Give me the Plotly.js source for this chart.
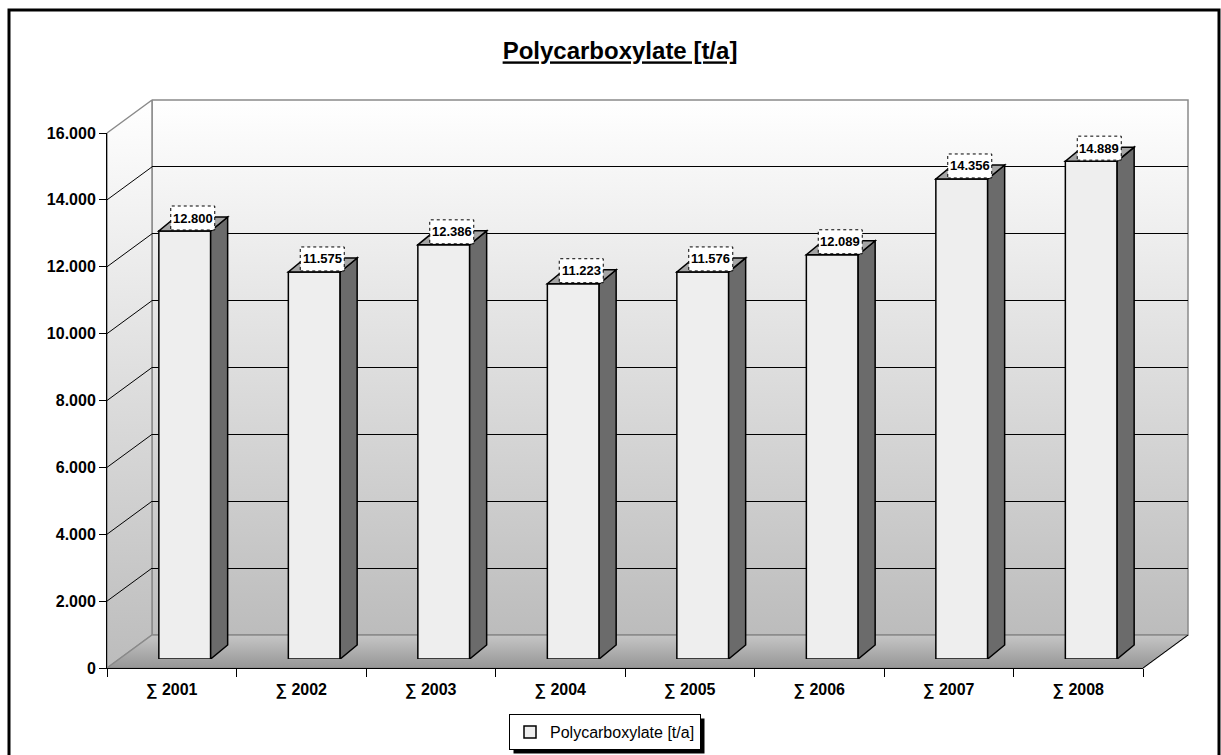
<!DOCTYPE html>
<html><head><meta charset="utf-8">
<script src="https://cdn.plot.ly/plotly-3.0.1.min.js"></script>
<style>html,body{margin:0;padding:0;background:#fff}</style>
</head><body><div id="chart" style="width:1221px;height:755px"></div>
<script>
// ---- data ----
const categories = ['\u2211 2001', '\u2211 2002', '\u2211 2003', '\u2211 2004', '\u2211 2005', '\u2211 2006', '\u2211 2007', '\u2211 2008'];
const values = [12800, 11575, 12386, 11223, 11576, 12089, 14356, 14889];
const seriesName = 'Polycarboxylate [t/a]';
const chartTitle = 'Polycarboxylate [t/a]';
const yMax = 16000;
const yStep = 2000;

// ---- layout geometry (pixels) ----
const W = 1221, H = 755;
const FONT = 'Liberation Sans, Arial, sans-serif';
const FRONT = {l: 107, r: 1143, b: 668, t: 133};
const WALL = {dx: 45, dy: 33};
const BARPLANE = {dx: 13, dy: 9};
const BAR_DEPTH = {dx: 17, dy: 14};
const BAR_W = 0.4;

function domX(dx) { return [(FRONT.l + dx) / W, (FRONT.r + dx) / W]; }
function domY(dy) { return [1 - (FRONT.b - dy) / H, 1 - (FRONT.t - dy) / H]; }
const py = p => H - p; // pixel row -> decoration axis value

const idx = categories.map((c, i) => i);
const gridVals = [];
for (let v = yStep; v < yMax; v += yStep) gridVals.push(v);
const fmt = v => String(v).replace(/\B(?=(\d{3})+(?!\d))/g, '.');

// ---- decoration (walls / floor) in pixel space ----
const wallL = FRONT.l + WALL.dx, wallR = FRONT.r + WALL.dx;
const wallT = FRONT.t - WALL.dy, wallB = FRONT.b - WALL.dy;
const wallGrad = {type: 'vertical', colorscale: [[0, '#bcbcbc'], [1, '#ffffff']]};
const deco = [
  { // back wall
    x: [wallL, wallR, wallR, wallL, wallL], y: [py(wallT), py(wallT), py(wallB), py(wallB), py(wallT)],
    fill: 'toself', fillgradient: wallGrad, mode: 'lines', line: {color: '#8a8a8a', width: 1.5}
  },
  { // left wall
    x: [FRONT.l, wallL, wallL, FRONT.l, FRONT.l], y: [py(FRONT.t), py(wallT), py(wallB), py(FRONT.b), py(FRONT.t)],
    fill: 'toself', fillgradient: wallGrad, mode: 'lines', line: {color: '#8a8a8a', width: 1.5}
  },
  { // floor
    x: [FRONT.l, FRONT.r, wallR, wallL, FRONT.l], y: [py(FRONT.b), py(FRONT.b), py(wallB), py(wallB), py(FRONT.b)],
    fill: 'toself', fillgradient: {type: 'vertical', colorscale: [[0, '#969696'], [1, '#c6c6c6']]},
    mode: 'lines', line: {color: '#8a8a8a', width: 1.5}
  },
  { // right floor edge
    x: [FRONT.r, wallR], y: [py(FRONT.b), py(wallB)], mode: 'lines', line: {color: '#000', width: 1}
  }
].map(t => Object.assign(t, {xaxis: 'x', yaxis: 'y', hoverinfo: 'skip', showlegend: false}));

const data = deco.concat([
  {x: [0], y: [0], xaxis: 'x2', yaxis: 'y2', mode: 'markers', marker: {opacity: 0}, hoverinfo: 'skip', showlegend: false},
  {
    type: 'bar', x: idx, y: values, xaxis: 'x3', yaxis: 'y3', width: BAR_W, name: seriesName,
    marker: {color: '#eeeeee', line: {color: '#000', width: 1.5}}, hoverinfo: 'skip', showlegend: true
  },
  {x: categories, y: values, xaxis: 'x4', yaxis: 'y4', mode: 'markers', marker: {opacity: 0}, hoverinfo: 'skip', showlegend: false}
]);

// ---- 3D faces of bars (in bar-plane data units) ----
const pxPerX = (FRONT.r - FRONT.l) / categories.length;
const ddx = BAR_DEPTH.dx / pxPerX;
const ddy = BAR_DEPTH.dy * yMax / (FRONT.b - FRONT.t);
const shapes = [];
values.forEach((v, i) => {
  const L = i - BAR_W / 2, R = i + BAR_W / 2;
  shapes.push({type: 'path', xref: 'x3', yref: 'y3', layer: 'above',
    path: `M${R},0 L${R + ddx},${ddy} L${R + ddx},${v + ddy} L${R},${v} Z`,
    fillcolor: '#6b6b6b', line: {color: '#000', width: 1.5}});
  shapes.push({type: 'path', xref: 'x3', yref: 'y3', layer: 'above',
    path: `M${L},${v} L${R},${v} L${R + ddx},${v + ddy} L${L + ddx},${v + ddy} Z`,
    fillcolor: '#a4a4a4', line: {color: '#000', width: 1.5}});
});
// data label boxes
values.forEach((v, i) => {
  shapes.push({type: 'rect', xref: 'x3', yref: 'y3', layer: 'above',
    xsizemode: 'pixel', ysizemode: 'pixel', xanchor: i, yanchor: v,
    x0: -14, x1: 30, y0: 1, y1: 25,
    fillcolor: '#fff', line: {color: '#000', width: 1, dash: 'dot'}});
});
// diagonal gridlines on left wall
gridVals.forEach(v => {
  shapes.push({type: 'path', xref: 'paper', yref: 'y4', layer: 'above',
    xsizemode: 'pixel', ysizemode: 'pixel', xanchor: FRONT.l / W, yanchor: v,
    path: `M0,0 L${WALL.dx},${WALL.dy}`, line: {color: '#000', width: 1}});
});
// outer frame
shapes.push({type: 'rect', xref: 'paper', yref: 'paper', layer: 'above',
  x0: 9 / W, x1: 1219 / W, y0: 1 - 10 / H, y1: -0.05, line: {color: '#000', width: 3}});

const annotations = values.map((v, i) => ({
  xref: 'x3', yref: 'y3', x: i, y: v, xshift: 8, yshift: 13, yanchor: 'middle', xanchor: 'center',
  text: fmt(v), showarrow: false, font: {family: FONT, size: 13, color: '#000', weight: 'bold'}
}));

const tickFont = {family: FONT, size: 16, color: '#000', weight: 'bold'};
const layout = {
  width: W, height: H, autosize: false,
  margin: {l: 0, r: 0, t: 0, b: 0, pad: 0},
  paper_bgcolor: '#fff', plot_bgcolor: 'rgba(0,0,0,0)',
  separators: ',.',
  title: {text: chartTitle, x: 620 / W, xanchor: 'center', xref: 'paper', y: 1 - 51 / H, yanchor: 'middle', yref: 'paper',
    font: {family: FONT, size: 24, color: '#000', weight: 'bold', lineposition: 'under'}},
  showlegend: true,
  legend: {x: 605 / W, xanchor: 'center', y: 1 - 714 / H, yanchor: 'top', bgcolor: '#fff', bordercolor: '#000', borderwidth: 1,
    font: {family: FONT, size: 16, color: '#000'}},
  xaxis: {domain: [0, 1], range: [0, W], visible: false, fixedrange: true},
  yaxis: {domain: [0, 1], range: [0, H], visible: false, fixedrange: true},
  xaxis2: {domain: domX(WALL.dx), anchor: 'y2', range: [-0.5, categories.length - 0.5], visible: false},
  yaxis2: {domain: domY(WALL.dy), anchor: 'x2', range: [0, yMax], tickvals: gridVals, showgrid: true, gridcolor: '#000', gridwidth: 1,
    showticklabels: false, ticks: '', zeroline: false, showline: false},
  xaxis3: {domain: domX(BARPLANE.dx), anchor: 'y3', range: [-0.5, categories.length - 0.5], visible: false},
  yaxis3: {domain: domY(BARPLANE.dy), anchor: 'x3', range: [0, yMax], visible: false},
  xaxis4: {domain: domX(0), anchor: 'y4', type: 'category', categoryorder: 'array', categoryarray: categories,
    range: [-0.5, categories.length - 0.5], tickson: 'boundaries', ticks: 'outside', ticklen: 8, tickcolor: '#000',
    ticklabelstandoff: 7,
    showline: true, linecolor: '#000', linewidth: 1, showgrid: false, zeroline: false, tickfont: tickFont},
  yaxis4: {domain: domY(0), anchor: 'x4', range: [0, yMax], tick0: 0, dtick: yStep, tickformat: ',d',
    ticks: 'outside', ticklen: 7, tickcolor: '#000', showline: true, linecolor: '#000', linewidth: 1,
    showgrid: false, zeroline: false, tickfont: tickFont},
  shapes: shapes,
  annotations: annotations
};

Plotly.newPlot('chart', data, layout, {staticPlot: true, displayModeBar: false}).then(gd => {
  const bg = gd.querySelector('.legend .bg');
  if (!bg) return;
  const r = bg.getBoundingClientRect(), c = gd.getBoundingClientRect();
  const off = 4;
  const shadow = {type: 'rect', xref: 'paper', yref: 'paper', layer: 'above',
    x0: (r.left - c.left + off) / W, x1: (r.right - c.left + off) / W,
    y0: 1 - (r.top - c.top + off) / H, y1: 1 - (r.bottom - c.top + off) / H,
    fillcolor: '#000', line: {width: 0}};
  return Plotly.relayout(gd, {shapes: shapes.concat([shadow])});
});
</script>
</body></html>
